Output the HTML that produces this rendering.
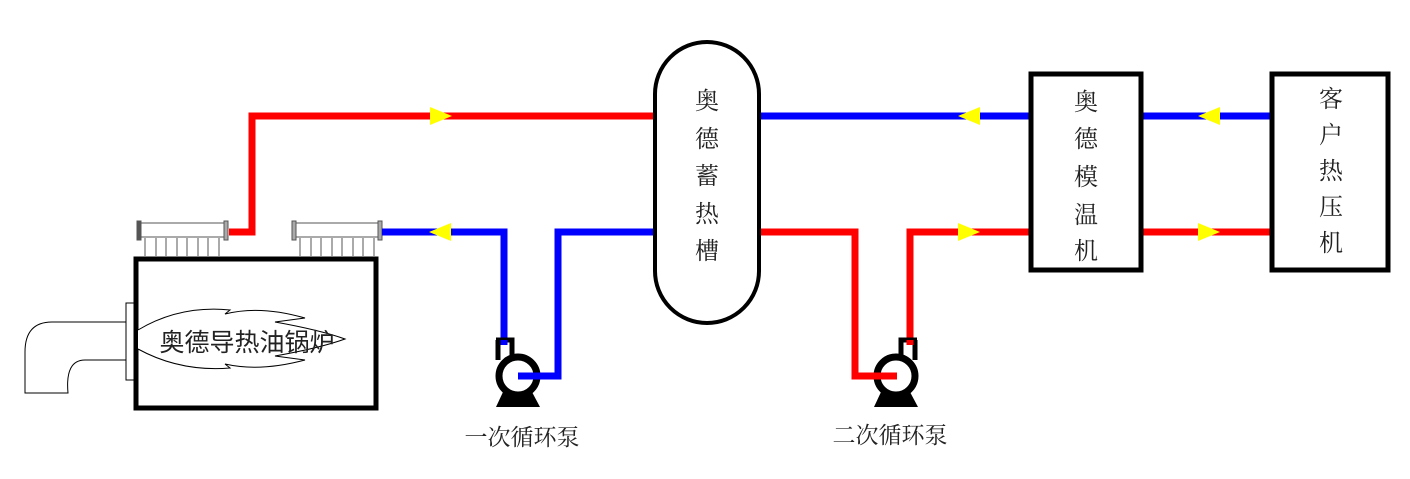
<!DOCTYPE html>
<html><head><meta charset="utf-8"><style>
body{margin:0;background:#fff;width:1410px;height:474px;overflow:hidden}
text{font-family:"Liberation Serif","Noto Serif CJK SC",serif;fill:#222}
</style></head><body>
<svg width="1410" height="474" viewBox="0 0 1410 474" xmlns="http://www.w3.org/2000/svg">
<path d="M126,322 H52 Q25,322 25,352 V393 H68 Q65,360 85,360 H126" fill="#fff" stroke="#000" stroke-width="1"/>
<rect x="126" y="303" width="8" height="77" fill="#fff" stroke="#000" stroke-width="1"/>
<rect x="136" y="259" width="240" height="149" fill="#fff" stroke="#000" stroke-width="5"/>
<path d="M138,330 Q180,305 230,310 L225,314 Q260,305 305,318 L275,322 Q320,330 345,339 Q320,348 275,356 L305,360 Q260,372 225,364 L230,368 Q180,372 138,349" fill="#fff" stroke="#000" stroke-width="1"/>
<text x="247" y="351" font-size="25" text-anchor="middle" style="font-family:'Liberation Sans','Noto Sans CJK SC',sans-serif">奥德导热油锅炉</text>
<g stroke="#555" stroke-width="1" fill="#fff">
<rect x="140" y="223" width="88" height="14"/>
<rect x="137" y="221" width="4" height="19" fill="#555"/>
<rect x="224" y="221" width="4" height="19" fill="#aaa"/>
<rect x="295" y="223" width="86" height="14"/>
<rect x="292" y="221" width="4" height="19" fill="#aaa"/>
<rect x="378" y="221" width="4" height="19" fill="#aaa"/>
<path d="M145,238V256M156,238V256M166,238V256M177,238V256M187,238V256M198,238V256M208,238V256M219,238V256"/>
<path d="M300,238V256M311,238V256M321,238V256M332,238V256M342,238V256M353,238V256M363,238V256M374,238V256"/>
</g>
<g fill="none" stroke-width="7" stroke-linejoin="miter">
<path d="M229,232 H252 V116 H655" stroke="#f00"/>
<path d="M382,232 H504 V345" stroke="#00f"/>
<path d="M518,376 H558 V232 H655" stroke="#00f"/>
<path d="M760,116 H1030" stroke="#00f"/>
<path d="M1142,116 H1270" stroke="#00f"/>
<path d="M760,232 H855 V376 H897" stroke="#f00"/>
<path d="M910,345 V232 H1030" stroke="#f00"/>
<path d="M1142,232 H1270" stroke="#f00"/>
</g>
<g fill="#ff0">
<path d="M430,107 L452,116 L430,125Z"/>
<path d="M451,223 L429,232 L451,241Z"/>
<path d="M980,107 L958,116 L980,125Z"/>
<path d="M958,223 L980,232 L958,241Z"/>
<path d="M1220,107 L1198,116 L1220,125Z"/>
<path d="M1198,223 L1220,232 L1198,241Z"/>
</g>
<rect x="655" y="42" width="104" height="281" rx="52" ry="52" fill="none" stroke="#000" stroke-width="4"/>
<g font-size="24" text-anchor="middle">
<text x="707" y="109">奥</text><text x="707" y="147">德</text><text x="707" y="184">蓄</text><text x="707" y="222">热</text><text x="707" y="259">槽</text>
</g>
<rect x="1031" y="74" width="110" height="196" fill="none" stroke="#000" stroke-width="5"/>
<g font-size="24" text-anchor="middle">
<text x="1086" y="110">奥</text><text x="1086" y="147">德</text><text x="1086" y="185">模</text><text x="1086" y="223">温</text><text x="1086" y="259">机</text>
</g>
<rect x="1272" y="74" width="116" height="196" fill="none" stroke="#000" stroke-width="5"/>
<g font-size="24" text-anchor="middle">
<text x="1331" y="107">客</text><text x="1331" y="143">户</text><text x="1331" y="179">热</text><text x="1331" y="215">压</text><text x="1331" y="251">机</text>
</g>
<g>
<path d="M496,340 H512 V356" fill="none" stroke="#000" stroke-width="5"/>
<path d="M498,340 V360" stroke="#000" stroke-width="5"/>
<circle cx="518" cy="376" r="19" fill="none" stroke="#000" stroke-width="7"/>
<path d="M503,392 L496,407 H540 L532,392Z" fill="#000"/>
</g>
<path d="M504,340 V345" stroke="#00f" stroke-width="7"/>
<path d="M518,376 H558" stroke="#00f" stroke-width="7"/>
<g>
<path d="M917,340 H901 V356" fill="none" stroke="#000" stroke-width="5"/>
<path d="M915,340 V360" stroke="#000" stroke-width="5"/>
<circle cx="896" cy="376" r="19" fill="none" stroke="#000" stroke-width="7"/>
<path d="M881,392 L874,407 H918 L910,392Z" fill="#000"/>
</g>
<path d="M910,340 V345" stroke="#f00" stroke-width="7"/>
<path d="M855,376 H897" stroke="#f00" stroke-width="7"/>
<text x="522" y="445" font-size="23" text-anchor="middle">一次循环泵</text>
<text x="890" y="443" font-size="23" text-anchor="middle">二次循环泵</text>
</svg>
</body></html>
